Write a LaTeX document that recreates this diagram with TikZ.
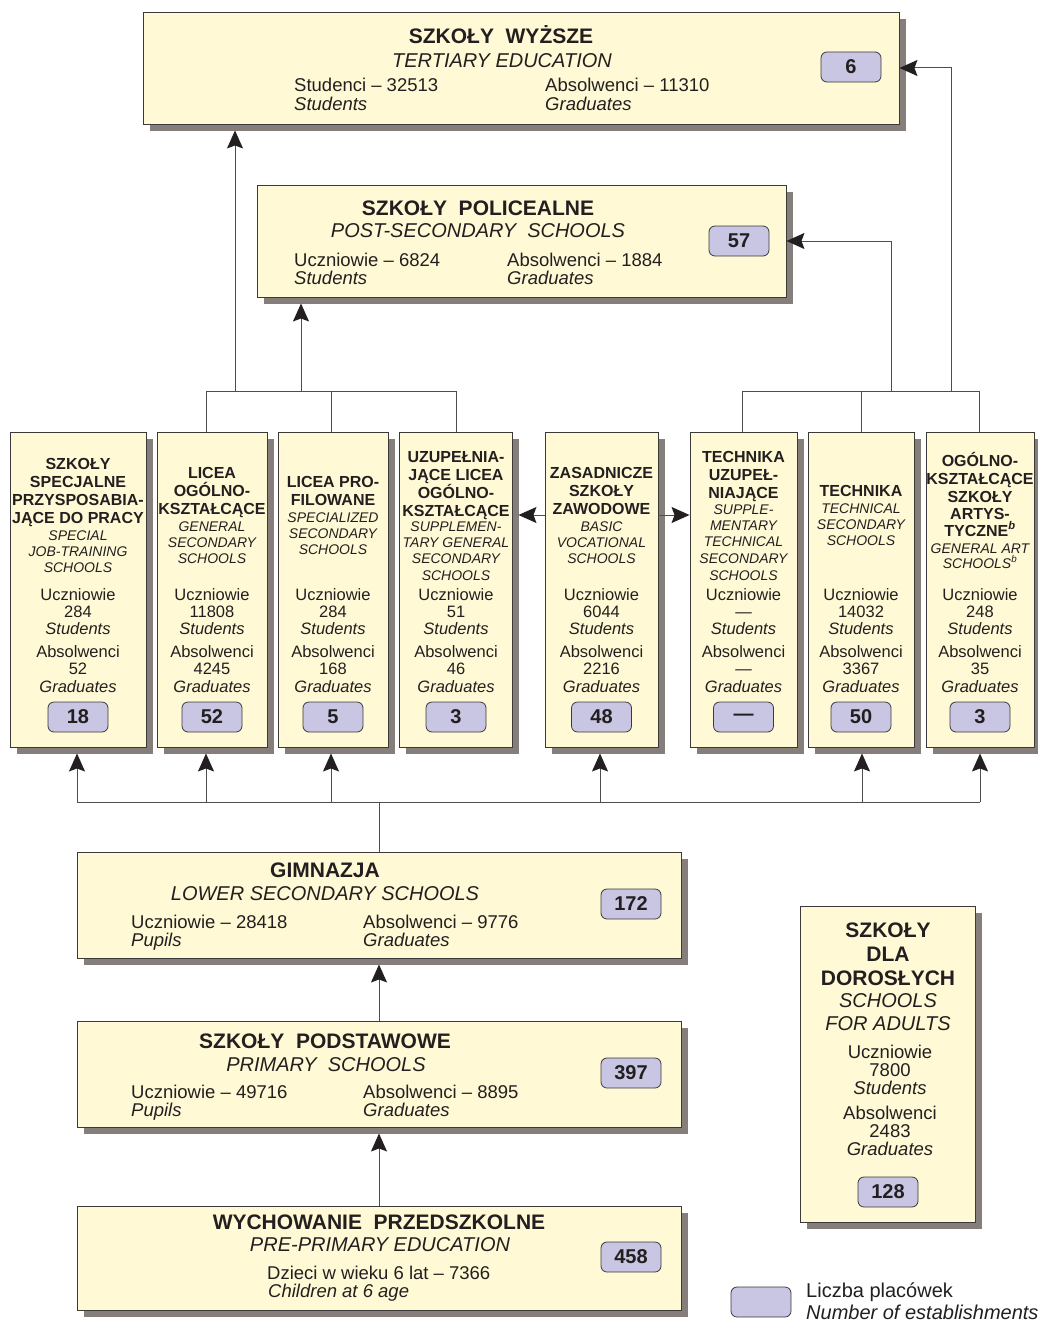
\documentclass[tikz,border=0pt]{standalone}
\usepackage{fontspec}
\setmainfont{Liberation Sans}
\usetikzlibrary{arrows.meta,shadows,calc}
\definecolor{boxfill}{HTML}{FFFAD5}
\definecolor{boxline}{HTML}{3A3A3A}
\definecolor{shadowc}{HTML}{857E7B}
\definecolor{badgefill}{HTML}{C8C6E3}
\definecolor{linec}{HTML}{4D4D4D}
\definecolor{textc}{HTML}{231F20}
\newcommand\xTitle{\fontsize{21}{24}\selectfont\bfseries}
\newcommand\xSub{\fontsize{20}{23}\selectfont\itshape}
\newcommand\xBody{\fontsize{18.5}{21}\selectfont}
\newcommand\xBodyI{\fontsize{18.5}{21}\selectfont\itshape}
\newcommand\xColB{\fontsize{16}{18}\selectfont\bfseries}
\newcommand\xColI{\fontsize{14}{16}\selectfont\itshape}
\newcommand\xColS{\fontsize{16.5}{18}\selectfont}
\newcommand\xColSI{\fontsize{16.5}{18}\selectfont\itshape}
\newcommand\xNum{\fontsize{20}{22}\selectfont\bfseries}
\newcommand\xAdB{\fontsize{21}{24}\selectfont\bfseries}
\newcommand\xAdI{\fontsize{20}{23}\selectfont\itshape}
\newcommand\xLeg{\fontsize{20}{23}\selectfont}
\newcommand\xLegI{\fontsize{20}{23}\selectfont\itshape}
\newcommand\colhead[3]{\foreach \ltxt/\yy/\ff [count=\i] in {#3} {\node[txt,font=\ff] (#1h\i) at (#2,\yy) {\ltxt};}}
\newcommand\colstats[5]{%
 \node[txt,font=\xColS] (#1u) at (#2,600) {Uczniowie};
 \node[txt,font=\xColS] (#1un) at (#2,617) {#3};
 \node[txt,font=\xColSI] (#1us) at (#2,634) {Students};
 \node[txt,font=\xColS] (#1a) at (#2,657) {Absolwenci};
 \node[txt,font=\xColS] (#1an) at (#2,674) {#4};
 \node[txt,font=\xColSI] (#1as) at (#2,692) {Graduates};
 \node[badge] (#1b) at (#2,717) {#5};}
\begin{document}
\begin{tikzpicture}[x=1pt,y=-1pt,
  box/.style={draw=boxline, line width=0.9pt, fill=boxfill, inner sep=0pt,
    drop shadow={shadow xshift=7pt, shadow yshift=-7pt, fill=shadowc, opacity=1}},
  badge/.style={draw=boxline, line width=0.8pt, fill=badgefill, rounded corners=6pt,
    minimum width=60pt, minimum height=30pt, inner sep=0pt, font=\xNum, text=textc},
  txt/.style={anchor=base, inner sep=0pt, text=textc},
  txtl/.style={anchor=base west, inner sep=0pt, text=textc},
  conn/.style={draw=linec, line width=1pt},
  arr/.style={conn, -{Stealth[length=18pt,width=16pt,inset=3pt,color=textc]}}]
\useasboundingbox (0,0) rectangle (1038,1322);

% ---------- boxes ----------
\node[box, minimum width=756pt, minimum height=112pt] (tert) at (521,68) {};
\node[box, minimum width=529pt, minimum height=112pt] (post) at (521.5,241) {};
\node[box, minimum width=136pt, minimum height=315pt] (c1) at (78,589.5) {};
\node[box, minimum width=110pt, minimum height=315pt] (c2) at (212,589.5) {};
\node[box, minimum width=110pt, minimum height=315pt] (c3) at (333,589.5) {};
\node[box, minimum width=113pt, minimum height=315pt] (c4) at (455.5,589.5) {};
\node[box, minimum width=113pt, minimum height=315pt] (c5) at (601.5,589.5) {};
\node[box, minimum width=107pt, minimum height=315pt] (c6) at (743.5,589.5) {};
\node[box, minimum width=106pt, minimum height=315pt] (c7) at (861,589.5) {};
\node[box, minimum width=108pt, minimum height=315pt] (c8) at (980,589.5) {};
\node[box, minimum width=604pt, minimum height=106pt] (gim) at (379,905) {};
\node[box, minimum width=604pt, minimum height=106pt] (pod) at (379,1074) {};
\node[box, minimum width=604pt, minimum height=104pt] (prz) at (379,1258) {};
\node[box, minimum width=175pt, minimum height=316pt] (adu) at (887.5,1064) {};

% ---------- tertiary ----------
\node[txt,font=\xTitle] (tertT) at (501,44) {SZKOŁY\ \ WYŻSZE};
\node[txt,font=\xSub] (tertS) at (502,67) {TERTIARY EDUCATION};
\node[txtl,font=\xBody] (tertA) at (294,92) {Studenci – 32513};
\node[txtl,font=\xBodyI] (tertB) at (294,110) {Students};
\node[txtl,font=\xBody] (tertC) at (545,92) {Absolwenci – 11310};
\node[txtl,font=\xBodyI] (tertD) at (545,110) {Graduates};
\node[badge] (tertN) at (851,67) {6};

% ---------- post-secondary ----------
\node[txt,font=\xTitle] (postT) at (478,215) {SZKOŁY\ \ POLICEALNE};
\node[txt,font=\xSub] (postS) at (478,237) {POST-SECONDARY\ \ SCHOOLS};
\node[txtl,font=\xBody] (postA) at (294,266) {Uczniowie – 6824};
\node[txtl,font=\xBodyI] (postB) at (294,284) {Students};
\node[txtl,font=\xBody] (postC) at (507,266) {Absolwenci – 1884};
\node[txtl,font=\xBodyI] (postD) at (507,284) {Graduates};
\node[badge] (postN) at (739,241) {57};

% ---------- columns ----------
\colhead{c1}{78}{SZKOŁY/469/\xColB, SPECJALNE/487/\xColB, PRZYSPOSABIA-/505/\xColB, JĄCE DO PRACY/523/\xColB, SPECIAL/540/\xColI, JOB-TRAINING/556/\xColI, SCHOOLS/572/\xColI}
\colstats{c1}{78}{284}{52}{18}
\colhead{c2}{212}{LICEA/478/\xColB, OGÓLNO-/496/\xColB, KSZTAŁCĄCE/514/\xColB, GENERAL/531/\xColI, SECONDARY/547/\xColI, SCHOOLS/563/\xColI}
\colstats{c2}{212}{11808}{4245}{52}
\colhead{c3}{333}{LICEA PRO-/487/\xColB, FILOWANE/505/\xColB, SPECIALIZED/522/\xColI, SECONDARY/538/\xColI, SCHOOLS/554/\xColI}
\colstats{c3}{333}{284}{168}{5}
\colhead{c4}{456}{UZUPEŁNIA-/462/\xColB, JĄCE LICEA/480/\xColB, OGÓLNO-/498/\xColB, KSZTAŁCĄCE/516/\xColB, SUPPLEMEN-/531/\xColI, TARY GENERAL/547/\xColI, SECONDARY/563/\xColI, SCHOOLS/580/\xColI}
\colstats{c4}{456}{51}{46}{3}
\colhead{c5}{601.5}{ZASADNICZE/478/\xColB, SZKOŁY/496/\xColB, ZAWODOWE/514/\xColB, BASIC/531/\xColI, VOCATIONAL/547/\xColI, SCHOOLS/563/\xColI}
\colstats{c5}{601.5}{6044}{2216}{48}
\colhead{c6}{743.5}{TECHNIKA/462/\xColB, UZUPEŁ-/480/\xColB, NIAJĄCE/498/\xColB, SUPPLE-/514/\xColI, MENTARY/530/\xColI, TECHNICAL/546/\xColI, SECONDARY/563/\xColI, SCHOOLS/580/\xColI}
\colstats{c6}{743.5}{—}{—}{—}
\colhead{c7}{861}{TECHNIKA/496/\xColB, TECHNICAL/513/\xColI, SECONDARY/529/\xColI, SCHOOLS/545/\xColI}
\colstats{c7}{861}{14032}{3367}{50}
\colhead{c8}{980}{OGÓLNO-/466/\xColB, KSZTAŁCĄCE/484/\xColB, SZKOŁY/502/\xColB, ARTYS-/519/\xColB, TYCZNE\textsuperscript{\textit{b}}/536/\xColB, GENERAL ART/553/\xColI, SCHOOLS\textsuperscript{b}/568/\xColI}
\colstats{c8}{980}{248}{35}{3}

% ---------- gimnazja ----------
\node[txt,font=\xTitle] (gimT) at (325,877) {GIMNAZJA};
\node[txt,font=\xSub] (gimS) at (325,900) {LOWER SECONDARY SCHOOLS};
\node[txtl,font=\xBody] (gimA) at (131,928) {Uczniowie – 28418};
\node[txtl,font=\xBodyI] (gimB) at (131,946) {Pupils};
\node[txtl,font=\xBody] (gimC) at (363,928) {Absolwenci – 9776};
\node[txtl,font=\xBodyI] (gimD) at (363,946) {Graduates};
\node[badge] (gimN) at (631,904) {172};

% ---------- podstawowe ----------
\node[txt,font=\xTitle] (podT) at (325,1048) {SZKOŁY\ \ PODSTAWOWE};
\node[txt,font=\xSub] (podS) at (326,1071) {PRIMARY\ \ SCHOOLS};
\node[txtl,font=\xBody] (podA) at (131,1098) {Uczniowie – 49716};
\node[txtl,font=\xBodyI] (podB) at (131,1116) {Pupils};
\node[txtl,font=\xBody] (podC) at (363,1098) {Absolwenci – 8895};
\node[txtl,font=\xBodyI] (podD) at (363,1116) {Graduates};
\node[badge] (podN) at (631,1073) {397};

% ---------- przedszkolne ----------
\node[txt,font=\xTitle] (przT) at (379,1229) {WYCHOWANIE\ \ PRZEDSZKOLNE};
\node[txt,font=\xSub] (przS) at (380,1251) {PRE-PRIMARY EDUCATION};
\node[txtl,font=\xBody] (przA) at (267,1279) {Dzieci w wieku 6 lat – 7366};
\node[txtl,font=\xBodyI] (przB) at (268,1297) {Children at 6 age};
\node[badge] (przN) at (631,1257) {458};

% ---------- adults ----------
\node[txt,font=\xAdB] (aduT1) at (888,937) {SZKOŁY};
\node[txt,font=\xAdB] (aduT2) at (888,961) {DLA};
\node[txt,font=\xAdB] (aduT3) at (888,985) {DOROSŁYCH};
\node[txt,font=\xAdI] (aduS1) at (888,1007) {SCHOOLS};
\node[txt,font=\xAdI] (aduS2) at (888,1030) {FOR ADULTS};
\node[txt,font=\xBody] (aduA) at (890,1058) {Uczniowie};
\node[txt,font=\xBody] (aduB) at (890,1076) {7800};
\node[txt,font=\xBodyI] (aduC) at (890,1094) {Students};
\node[txt,font=\xBody] (aduD) at (890,1119) {Absolwenci};
\node[txt,font=\xBody] (aduE) at (890,1137) {2483};
\node[txt,font=\xBodyI] (aduF) at (890,1155) {Graduates};
\node[badge] (aduN) at (888,1192) {128};

% ---------- legend ----------
\node[badge] (legN) at (761,1302) {};
\node[txtl,font=\xLeg] (legA) at (806,1297) {Liczba placówek};
\node[txtl,font=\xLegI] (legB) at (806,1319) {Number of establishments};

% ---------- connectors ----------
\coordinate (jl1) at (206,391);
\coordinate (jl2) at (331,391);
\coordinate (jl3) at (456,391);
\coordinate (ut) at (235,391);
\coordinate (up) at (301,391);
\draw[conn] (c2.north -| jl1) -- (jl1) -- (jl3) -- (c4.north -| jl3);
\draw[conn] (jl2) -- (c3.north -| jl2);
\draw[arr] (ut) -- ($(tert.south -| ut)+(0,6)$);
\draw[arr] (up) -- ($(post.south -| up)+(0,6)$);

\coordinate (jr1) at (742,391);
\coordinate (jr2) at (861,391);
\coordinate (jr3) at (979,391);
\coordinate (ur1) at (891,391);
\coordinate (ur2) at (951,391);
\draw[conn] (c6.north -| jr1) -- (jr1) -- (jr3) -- (c8.north -| jr3);
\draw[conn] (jr2) -- (c7.north -| jr2);
\draw[arr] (ur1) |- (post.east);
\draw[arr] (ur2) |- (tert.east);

\coordinate (zy) at (0,515);
\draw[arr] (c5.west |- zy) -- ($(c4.east |- zy)+(6,0)$);
\draw[arr] (c5.east |- zy) -- (c6.west |- zy);

\coordinate (bus) at (379,802);
\coordinate (bx1) at (77,802);
\coordinate (bx2) at (206,802);
\coordinate (bx3) at (331,802);
\coordinate (bx4) at (600,802);
\coordinate (bx5) at (862,802);
\coordinate (bx6) at (980,802);
\draw[conn] (gim.north) -- (bus);
\draw[conn] (bx1) -- (bx6);
\foreach \cc/\pp in {c1/bx1, c2/bx2, c3/bx3, c5/bx4, c7/bx5, c8/bx6}
  \draw[arr] (\pp) -- ($(\cc.south -| \pp)+(0,6)$);

\draw[arr] (pod.north) -- ($(gim.south)+(0,6)$);
\draw[arr] (prz.north) -- ($(pod.south)+(0,6)$);
\end{tikzpicture}
\end{document}
